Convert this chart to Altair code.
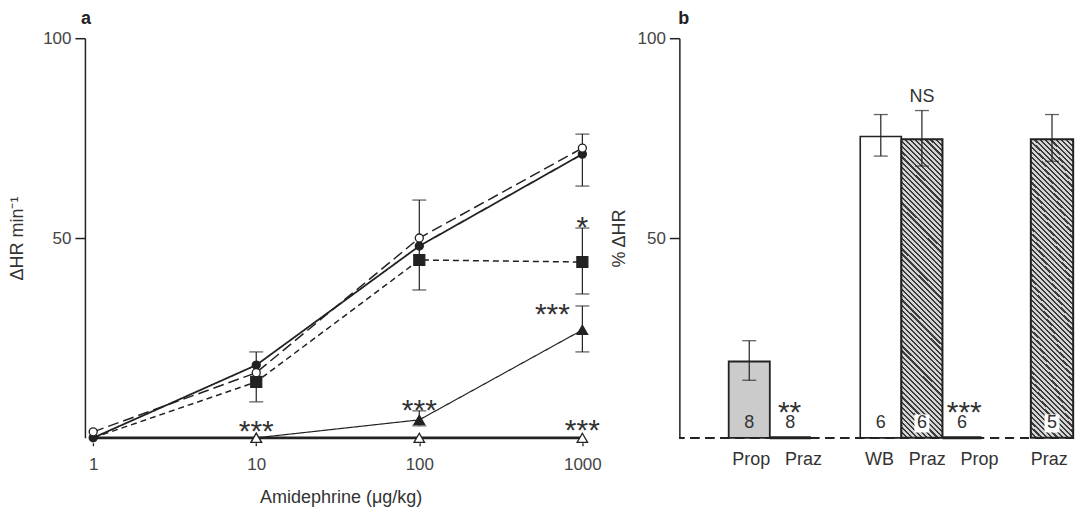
import altair as alt
import pandas as pd

FONT = "Liberation Sans"
INK = "#222222"
TXT = "#333333"

# ---------------- panel a data ----------------
doses = [1, 10, 100, 1000]
closed_circle = [0, 18.2, 48, 71]
open_circle = [1.5, 16.3, 50, 72.5]
filled_square = [0, 14, 44.5, 44]
filled_triangle = [0, 0, 4.5, 27]
open_triangle = [0, 0, 0, 0]

err_dose = [10, 100, 1000, 1000, 100, 1000]
err_lo = [9, 37, 63, 36, 3, 21.5]
err_hi = [21.5, 59.5, 76, 52.5, 6.75, 33]

ann_dose = [10, 100, 1000, 1000]
ann_y = [3.3, 8.7, 3.5, 54.5]
ann_text = ["***", "***", "***", "*"]
ann2_dose = [1000]
ann2_y = [32.5]
ann2_text = ["***"]

# ---------------- panel b data ----------------
bar_label = ["Prop", "Praz", "WB", "Praz", "Prop", "Praz"]
bar_x0 = [1.2, 2.2, 4.4, 5.4, 6.4, 8.55]
bar_x1 = [2.2, 3.2, 5.4, 6.4, 7.35, 9.58]
bar_val = [19.1, 0, 75.4, 74.7, 0, 74.7]
bar_lo = [14.4, None, 70.5, 68, None, 69.2]
bar_hi = [24.3, None, 80.9, 81.9, None, 80.9]
bar_n = ["8", "8", "6", "6", "6", "5"]
bar_kind = ["dots", "zero", "white", "hatch", "zero", "hatch"]
label_x = [1.75, 3.02, 4.87, 6.03, 7.3, 9.0]
star_x = [2.68, 6.93, 5.9]
star_y = [8.2, 8.2, 85.4]
star_text = ["**", "***", "NS"]

STAR_FS = 30
STAR_DY = 7.5

# ================= panel a =================
W_A, H_A = 512, 400
xs = alt.Scale(type="log", domain=[0.89, 1220])
ys = alt.Scale(domain=[0, 100])

series = [
    ("closed", closed_circle, [1, 0], 1.8, "circle", INK, 64),
    ("open", open_circle, [11, 5], 1.5, "circle", "white", 64),
    ("square", filled_square, [6, 4], 1.5, "square", INK, 120),
    ("tri", filled_triangle, [1, 0], 1.2, "triangle-up", INK, 110),
    ("otri", open_triangle, [1, 0], 2.6, "triangle-up", "white", 110),
]
marker_order = ["square", "closed", "open", "tri", "otri"]

rows = []
for name, vals, *_ in series:
    for d, v in zip(doses, vals):
        rows.append({"series": name, "dose": d, "val": v})
dfa = pd.DataFrame(rows)

x_enc = alt.X("dose:Q", scale=xs,
              axis=alt.Axis(values=doses, format="d", domain=False, tickSize=9,
                            tickDash=[3, 2], tickColor=INK, tickWidth=1.3,
                            labelPadding=10, title="Amidephrine (\u03bcg/kg)",
                            titlePadding=16))
y_enc = alt.Y("val:Q", scale=ys,
              axis=alt.Axis(values=[50, 100], tickSize=10, labelPadding=4,
                            title="\u0394HR min\u207b\u00b9", titlePadding=16,
                            domainWidth=1.5, domainColor=INK, tickColor=INK,
                            tickWidth=1.5))

base_a = alt.Chart(dfa)
layers_a = []

dfe = pd.DataFrame({"dose": err_dose, "lo": err_lo, "hi": err_hi})
eb = alt.Chart(dfe)
layers_a.append(eb.mark_rule(color=INK, strokeWidth=1.2).encode(
    x=alt.X("dose:Q", scale=xs), y=alt.Y("lo:Q", scale=ys), y2="hi:Q"))
layers_a.append(eb.mark_tick(orient="horizontal", size=14, thickness=1.3, color=INK).encode(
    x=alt.X("dose:Q", scale=xs), y=alt.Y("lo:Q", scale=ys)))
layers_a.append(eb.mark_tick(orient="horizontal", size=14, thickness=1.3, color=INK).encode(
    x=alt.X("dose:Q", scale=xs), y=alt.Y("hi:Q", scale=ys)))

first = True
for name, vals, dash, sw, shape, fill, size in series:
    sub = base_a.transform_filter(alt.datum.series == name)
    line = sub.mark_line(color=INK, strokeWidth=sw, strokeDash=dash).encode(
        x=x_enc if first else alt.X("dose:Q", scale=xs),
        y=y_enc if first else alt.Y("val:Q", scale=ys))
    first = False
    layers_a.append(line)
spec = {s[0]: s for s in series}
for name in marker_order:
    _, vals, dash, sw, shape, fill, size = spec[name]
    sub = base_a.transform_filter(alt.datum.series == name)
    if name in ("tri", "otri", "square"):
        sub = sub.transform_filter(alt.datum.dose > 1)
    layers_a.append(sub.mark_point(shape=shape, filled=True, fill=fill, stroke=INK,
                                   strokeWidth=1.3, size=size, opacity=1).encode(
        x=alt.X("dose:Q", scale=xs), y=alt.Y("val:Q", scale=ys)))

dfann = pd.DataFrame({"dose": ann_dose, "y": ann_y, "t": ann_text})
layers_a.append(alt.Chart(dfann).mark_text(font=FONT, fontSize=STAR_FS, color=TXT,
                                           baseline="middle", dy=STAR_DY).encode(
    x=alt.X("dose:Q", scale=xs), y=alt.Y("y:Q", scale=ys), text="t:N"))
dfann2 = pd.DataFrame({"dose": ann2_dose, "y": ann2_y, "t": ann2_text})
layers_a.append(alt.Chart(dfann2).mark_text(font=FONT, fontSize=STAR_FS, color=TXT,
                                            baseline="middle", dy=STAR_DY, dx=-30).encode(
    x=alt.X("dose:Q", scale=xs), y=alt.Y("y:Q", scale=ys), text="t:N"))

panel_a = alt.layer(*layers_a).properties(
    width=W_A, height=H_A, title=alt.TitleParams("a", anchor="start", frame="group",
                                                 fontSize=18, fontWeight="bold",
                                                 font=FONT, offset=1, dx=-4, color=INK))

# ================= panel b =================
W_B, H_B = 395, 400
xbs = alt.Scale(domain=[0, 9.6])
ybs = alt.Scale(domain=[0, 100])
dfb = pd.DataFrame({"label": bar_label, "x0": bar_x0, "x1": bar_x1, "val": bar_val,
                    "lo": bar_lo, "hi": bar_hi, "n": bar_n, "kind": bar_kind})
dfb["xc"] = (dfb["x0"] + dfb["x1"]) / 2
dfb["zero"] = 0
dfb["ny"] = 3.6
bb = alt.Chart(dfb)
xb = alt.X("x0:Q", scale=xbs, axis=None)
yb = alt.Y("val:Q", scale=ybs,
           axis=alt.Axis(values=[50, 100], tickSize=10, labelPadding=4,
                         title="% \u0394HR", titlePadding=9,
                         domainWidth=1.5, domainColor=INK, tickColor=INK, tickWidth=1.5))

# diagonal hatching drawn as a striped linear gradient (style only)
K = 7.3
stops = []
t0, t1, period = 0.84, 1.0, 0.0023
t = t0
dark, light = "#3c3c3c", "#d4d4d4"
while t < t1:
    a = t
    b = t + period * 0.42
    c = t + period
    stops += [alt.GradientStop(color=dark, offset=round(a, 5)),
              alt.GradientStop(color=dark, offset=round(b, 5)),
              alt.GradientStop(color=light, offset=round(b, 5)),
              alt.GradientStop(color=light, offset=round(min(c, 1.0), 5))]
    t = c
hatch = alt.Gradient(gradient="linear", stops=stops, x1=0, y1=K, x2=1, y2=0)

layers_b = []
layers_b.append(bb.mark_rule(color=INK, strokeWidth=1.3, strokeDash=[9, 6]).encode(
    y=alt.Y("zero:Q", scale=ybs)))
first_b = True
for kind, fill, sw in [("white", "#ffffff", 1.6), ("dots", "#cbcbcb", 1.8), ("hatch", hatch, 2.0)]:
    layers_b.append(bb.transform_filter(alt.datum.kind == kind).mark_rect(
        stroke=INK, strokeWidth=sw, fill=fill).encode(
        x=xb, x2="x1:Q", y=yb if first_b else alt.Y("val:Q", scale=ybs), y2="zero:Q"))
    first_b = False
zero = bb.transform_filter(alt.datum.kind == "zero")
layers_b.append(zero.mark_rule(color=INK, strokeWidth=3).encode(
    x=alt.X("x0:Q", scale=xbs), x2="x1:Q", y=alt.Y("zero:Q", scale=ybs)))
nonzero = bb.transform_filter(alt.datum.kind != "zero")
layers_b.append(nonzero.mark_rule(color=INK, strokeWidth=1.2).encode(
    x=alt.X("xc:Q", scale=xbs), y=alt.Y("lo:Q", scale=ybs), y2="hi:Q"))
layers_b.append(nonzero.mark_tick(orient="horizontal", size=14, thickness=1.3, color=INK).encode(
    x=alt.X("xc:Q", scale=xbs), y=alt.Y("lo:Q", scale=ybs)))
layers_b.append(nonzero.mark_tick(orient="horizontal", size=14, thickness=1.3, color=INK).encode(
    x=alt.X("xc:Q", scale=xbs), y=alt.Y("hi:Q", scale=ybs)))
# white boxes behind the counts on hatched bars (vertical tick = filled box)
layers_b.append(bb.transform_filter(alt.datum.kind == "hatch").mark_tick(
    orient="vertical", color="white", opacity=1, thickness=15, size=18).encode(
    x=alt.X("xc:Q", scale=xbs), y=alt.Y("ny:Q", scale=ybs)))
layers_b.append(bb.mark_text(font=FONT, fontSize=18, color=TXT, baseline="middle").encode(
    x=alt.X("xc:Q", scale=xbs), y=alt.Y("ny:Q", scale=ybs), text="n:N"))
dfl = pd.DataFrame({"lx": label_x, "label": bar_label})
layers_b.append(alt.Chart(dfl).mark_text(font=FONT, fontSize=18, color=TXT,
                                         baseline="middle").encode(
    x=alt.X("lx:Q", scale=xbs), y=alt.value(H_B + 22), text="label:N"))
dfs = pd.DataFrame({"sx": star_x, "sy": star_y, "t": star_text})
layers_b.append(alt.Chart(dfs).transform_filter(alt.datum.t != "NS").mark_text(
    font=FONT, fontSize=STAR_FS, color=TXT, baseline="middle", dy=STAR_DY).encode(
    x=alt.X("sx:Q", scale=xbs), y=alt.Y("sy:Q", scale=ybs), text="t:N"))
layers_b.append(alt.Chart(dfs).transform_filter(alt.datum.t == "NS").mark_text(
    font=FONT, fontSize=18, color=TXT, baseline="middle").encode(
    x=alt.X("sx:Q", scale=xbs), y=alt.Y("sy:Q", scale=ybs), text="t:N"))

panel_b = alt.layer(*layers_b).properties(
    width=W_B, height=H_B, title=alt.TitleParams("b", anchor="start", frame="group",
                                                 fontSize=18, fontWeight="bold",
                                                 font=FONT, offset=1, dx=-1, color=INK))

chart = alt.hconcat(panel_a, panel_b, spacing=8).properties(
    padding={"left": 0, "top": 2, "right": 0, "bottom": 2}
).configure_view(stroke=None).configure_axis(
    grid=False, labelFont=FONT, titleFont=FONT, labelFontSize=17, titleFontSize=18,
    labelColor="#444444", titleColor=TXT, titleFontWeight="normal"
)

chart.save("out.html", embed_options={"renderer": "svg", "actions": False})
